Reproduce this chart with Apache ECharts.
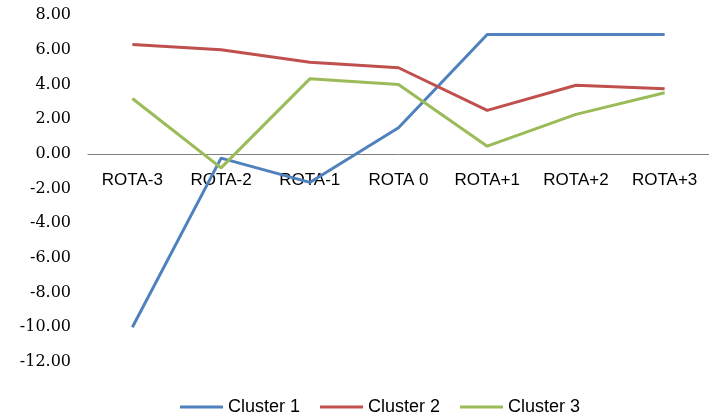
<!DOCTYPE html>
<html><head><meta charset="utf-8">
<script src="https://cdn.jsdelivr.net/npm/echarts@6/dist/echarts.min.js"></script>
<style>html,body{margin:0;padding:0;background:#fff}#c{width:709px;height:416px}</style>
</head><body><div id="c"></div>
<script>
const categories = ['ROTA-3','ROTA-2','ROTA-1','ROTA 0','ROTA+1','ROTA+2','ROTA+3'];
const cluster1 = [-10.0, -0.25, -1.65, 1.5, 6.88, 6.88, 6.88];
const cluster2 = [6.3, 6.0, 5.28, 4.96, 2.5, 3.95, 3.75];
const cluster3 = [3.19, -0.81, 4.32, 3.99, 0.44, 2.27, 3.52];
const seriesNames = ['Cluster 1','Cluster 2','Cluster 3'];
const colors = ['#4F81BD','#C0504D','#9BBB59'];

const chart = echarts.init(document.getElementById('c'), null, {renderer:'canvas'});
const mk = (name, data, color) => ({
  name, type:'line', data, symbol:'none', smooth:false,
  lineStyle:{width:3, color}, itemStyle:{color}
});
chart.setOption({
  animation:false,
  backgroundColor:'#fff',
  grid:{left:88, top:15, width:628, height:347, containLabel:false},
  legend:{
    top:393, left:175, icon:'rect', itemWidth:43, itemHeight:3, itemGap:20,
    textStyle:{fontFamily:'Liberation Sans', fontSize:18, color:'#000'},
    data:seriesNames
  },
  xAxis:{
    type:'category', data:categories, boundaryGap:true,
    axisLine:{onZero:true, lineStyle:{color:'#808080', width:1}},
    axisTick:{show:false},
    axisLabel:{fontFamily:'Liberation Sans', fontSize:17, color:'#000', margin:-190},
    splitLine:{show:false}
  },
  yAxis:{
    type:'value', min:-12, max:8, interval:2,
    axisLine:{show:false}, axisTick:{show:false}, splitLine:{show:false},
    axisLabel:{fontFamily:'DejaVu Serif', fontSize:16, color:'#000', margin:17,
      formatter:v=>v.toFixed(2)}
  },
  series:[mk(seriesNames[0],cluster1,colors[0]), mk(seriesNames[1],cluster2,colors[1]), mk(seriesNames[2],cluster3,colors[2])]
});
</script></body></html>
